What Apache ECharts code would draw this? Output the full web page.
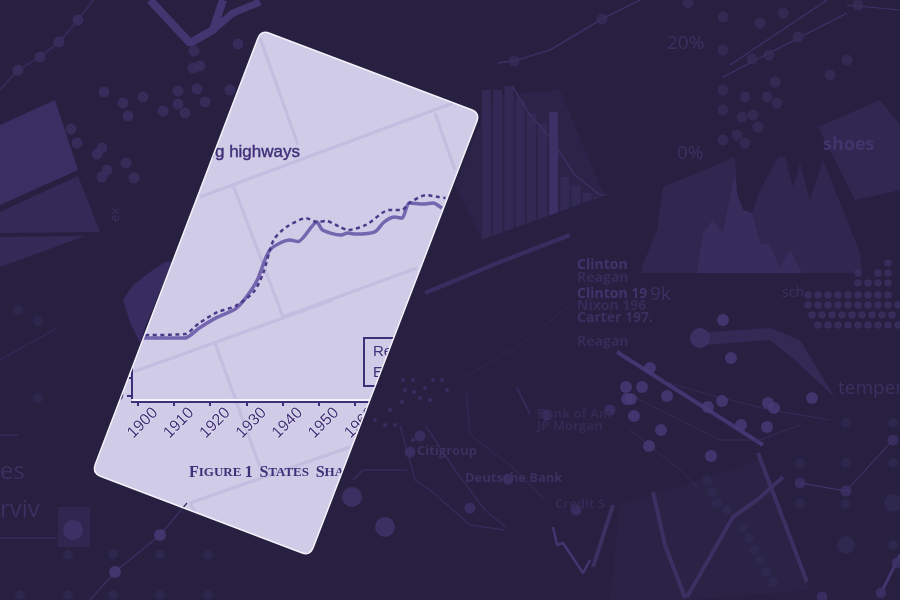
<!DOCTYPE html>
<html>
<head>
<meta charset="utf-8">
<style>html,body{margin:0;padding:0;background:#272041}#c{width:900px;height:600px}</style>
<script src="https://cdn.jsdelivr.net/npm/echarts@6/dist/echarts.min.js"></script>
</head>
<body>
<div id="c"></div>
<script>
// ---- main chart data ----
var revenueYears = [1900,1902.5,1913,1917,1922,1927,1930,1933,1936.5,1942,1944.3,1949.5,1951,1956,1958,1960,1965.5,1968,1971,1973,1975,1979,1981.5,1984];
var revenueShare = [16.1,16.1,16.1,18.9,21.9,24.2,27.5,32.2,40.6,43.3,42.9,48.3,46.1,44.7,45.3,45,45.6,48.3,49.7,49.4,53.6,53.3,53.6,52.2];
var expendYears = [1900,1913,1917,1922,1927,1932,1934.6,1937.5,1941,1946.5,1949.5,1952,1956,1958,1963,1969.5,1973,1975,1979.5,1983,1985];
var expendShare = [16.9,17.2,20.3,23.3,25,28.9,34,43.3,46.9,49.4,48.3,48.6,46.9,46.1,47.5,51.7,51.7,53.6,55.8,55.3,55];
var xTicks = [1900,1910,1920,1930,1940,1950,1960,1970,1980];
var yTicks = [0,5,10,15,20,25,30,35,40,45,50,55,60];

// ---- faded background fragments ----
var barHeights = [150,150,154,140,127,117,128,63,55,47,43];
var areaOuter = [[642,267],[657,230],[663,187],[735,157],[737,193],[743,210],[752,213],[760,190],[778,157],[785,157],[793,187],[800,163],[810,200],[823,160],[860,253],[862,273]];
var areaInner = [[697,273],[703,233],[713,220],[723,233],[730,197],[735,172],[737,193],[743,210],[752,213],[760,243],[770,245],[780,267],[790,250],[802,273]];
var dotsBright = [[723,320],[731,358],[650,368],[626,387],[642,387],[627,399],[631,399],[667,396],[634,416],[661,430],[649,446],[708,407],[722,401],[768,403],[774,408],[812,398],[741,425],[767,427],[711,456],[160,535],[115,572]];
var dotsLarge = [[700,338],[73,530],[352,497],[385,527]];
var dotsLeft = [[104,92],[123,103],[128,116],[143,97],[163,111],[178,91],[197,89],[178,104],[185,113],[205,102],[193,68],[200,66],[194,51],[238,44],[230,90],[102,148],[97,154],[107,170],[102,177],[126,163],[134,178],[71,129],[77,143],[78,20],[59,42],[40,57],[18,70]];
var dotsTopRight = [[752,59],[769,55],[847,60],[775,82],[745,97],[767,97],[777,103],[753,115],[742,117],[758,127],[737,135],[745,143],[798,37],[688,3],[602,19],[514,61],[858,5],[760,23],[830,75],[783,13],[723,17],[723,50],[723,90],[723,110],[723,140]];
var dotsField = [[808,305],[818,305],[828,305],[838,305],[848,305],[858,305],[868,305],[878,305],[888,305],[898,305],[812,315],[822,315],[832,315],[842,315],[852,315],[862,315],[872,315],[882,315],[892,315],[818,325],[828,325],[838,325],[848,325],[858,325],[868,325],[878,325],[888,325],[898,325],[808,295],[818,295],[828,295],[838,295],[848,295],[858,295],[868,295],[878,295],[888,295],[858,283],[868,283],[878,283],[888,283],[858,273],[888,273],[878,273],[888,263]];
var dotsFaint = [[113,554],[160,554],[208,555],[68,555],[113,595],[160,595],[68,595],[208,595],[20,595],[38,398],[18,310],[38,321],[846,423],[846,504],[893,423],[893,463],[846,545],[893,545],[846,463],[800,463],[800,503],[707,480],[712,492],[717,503],[727,510],[743,528],[749,538],[754,550],[760,560],[766,572],[773,582]];
var dotsFaintBig = [[893,503],[846,545]];
var dotsGroup = [[800,483],[846,491],[893,440],[897,563],[881,593],[822,597],[610,410],[576,510],[508,479],[410,452],[420,436],[547,415],[470,508]];
var dotsSpeck = [[403,380],[413,380],[433,380],[442,380],[405,390],[414,392],[425,388],[447,390],[420,398],[430,400],[402,402],[390,410],[375,420],[385,425],[395,425],[413,440]];
var lineTop = [[497,63],[514,61],[550,50],[602,19],[640,0]];
var lineCross1 = [[723,77],[847,13]];
var lineCross2 = [[730,65],[827,0]];
var lineCross3 = [[847,5],[900,10]];
var lineBarCurve = [[512,86],[530,115],[548,135],[575,175],[600,195],[612,195],[618,194]];
var lineDiagLong = [[425,293],[500,262],[570,235]];
var lineThin1 = [[460,380],[520,345],[570,305]];
var lineThick1 = [[617,352],[680,392],[763,445]];
var lineThick2 = [[758,453],[807,582]];
var lineThick3 = [[653,492],[665,545],[685,598]];
var lineCurveUp = [[687,597],[733,517],[757,500],[783,477]];
var lineJag = [[553,527],[557,545],[563,543],[583,573],[590,560]];
var lineJag2 = [[613,505],[593,567]];
var lineRight = [[800,483],[846,491],[893,440]];
var lineRight2 = [[880,595],[900,555]];
var lineBL = [[90,600],[115,572],[160,535],[187,503]];
var lineBL2 = [[353,480],[363,470],[407,470]];
var lineL1 = [[0,360],[57,328]];
var lineL2 = [[0,435],[18,435]];
var lineL3 = [[0,538],[57,538]];
var lineChevA = [[150,0],[190,43],[213,30],[223,0]];
var lineChevB = [[213,30],[233,13],[260,2]];
var lineDots = [[0,90],[18,70],[40,57],[59,42],[78,20],[93,0]];
var lineBank1 = [[400,425],[415,480],[430,490],[470,525],[505,530]];
var lineBank2 = [[425,425],[455,470],[485,510],[507,528]];
var lineBank3 = [[466,390],[470,435],[510,465],[545,500]];
var lineBank4 = [[517,388],[530,414]];
var lineWeb = [[620,390],[670,415],[720,440],[760,440],[800,425]];
var lineWeb2 = [[630,430],[680,470],[700,490]];
var lineWeb3 = [[660,380],[710,395],[770,410],[830,420]];

var INK = '#3f2f78', BASE = '#272041', CARD = '#d0cbe6';
var cardHole = 'M257.8 38.4 L95.2 464.6 Q92 473 100.4 476.2 L301.6 552.8 Q310 556 313.2 547.6 L476.8 121.4 Q480 113 471.6 109.8 L269.4 33.2 Q261 30 257.8 38.4 Z';

function dots(arr, size, color) {
  return {type:'scatter', xAxisIndex:1, yAxisIndex:1, data:arr, symbolSize:size, z:20, silent:true,
    itemStyle:{color:color}, animation:false, legendHoverLink:false};
}
function stroke(arr, width, color, z) {
  return {type:'line', xAxisIndex:1, yAxisIndex:1, data:arr, showSymbol:false, z:z||20, silent:true, animation:false,
    lineStyle:{color:color, width:width}, itemStyle:{color:color}};
}
function area(arr, color) {
  return {type:'line', xAxisIndex:1, yAxisIndex:1, data:arr, showSymbol:false, z:20, silent:true, animation:false,
    lineStyle:{width:0}, areaStyle:{color:color, opacity:1, origin:273}, itemStyle:{color:color}};
}
function poly(points, fill, z) {
  return {type:'polygon', silent:true, z:z||15, shape:{points:points}, style:{fill:fill}};
}
function cardLine(a, b, c, d) {
  return {type:'line', silent:true, z:-1, shape:{x1:a,y1:b,x2:c,y2:d}, style:{stroke:'#c3bde0', lineWidth:3}};
}
function ghost(t, x, y, size, color, weight, rot) {
  return {type:'text', silent:true, z:21, x:x, y:y, rotation:rot||0, style:{text:t, fill:color, font:(weight||'normal')+' '+size+'px "Open Sans"', textVerticalAlign:'middle'}};
}
function pathSeries(d, style, z) {
  return {type:'custom', coordinateSystem:'none', data:[0], z:z, silent:true, clip:false, animation:false,
    renderItem:function(){ return {type:'path', shape:{pathData:d}, style:style}; }};
}

var graphics = [
  cardLine(260,38,298,145), cardLine(200,197,453,103), cardLine(233,185,283,317),
  cardLine(283,317,417,268), cardLine(435,113,455,170), cardLine(133,372,333,300),
  cardLine(215,343,260,467), cardLine(190,503,350,447), cardLine(190,503,198,518),
  {type:'text', silent:true, z:3, x:300, y:152, style:{text:'Building highways', fill:INK, stroke:INK, lineWidth:0.4, font:'17px "Liberation Sans"', textAlign:'right', textVerticalAlign:'middle'}},
  {type:'text', silent:true, z:3, x:189, y:473, style:{
    text:'{b|F}{s|IGURE} {b|1}  {b|S}{s|TATES}  {b|S}{s|HARE}',
    textVerticalAlign:'middle',
    rich:{b:{font:'bold 16px "Liberation Serif"', fill:INK, color:INK}, s:{font:'bold 13px "Liberation Serif"', fill:INK, color:INK}}
  }},
  // legend box
  {type:'rect', silent:true, z:3, shape:{x:364,y:338,width:120,height:48}, style:{fill:CARD, stroke:INK, lineWidth:2}},
  {type:'text', silent:true, z:4, x:373, y:352, style:{text:'Revenue', fill:INK, font:'15px "Liberation Sans"', textVerticalAlign:'middle'}},
  {type:'text', silent:true, z:4, x:373, y:373, style:{text:'Expenditures', fill:INK, font:'15px "Liberation Sans"', textVerticalAlign:'middle'}},
  // faded panels
  poly([[0,125],[55,100],[78,170],[0,205]],'#3a2f63'),
  poly([[0,212],[78,176],[100,232],[0,233]],'#332a57'),
  poly([[0,237],[85,236],[0,267]],'#332a57'),
  poly([[482,118],[500,95],[560,90],[600,185],[607,197],[483,242],[455,185]],'#2b2448'),
  poly([[818,127],[880,100],[900,125],[900,190],[855,200]],'#302851'),
  poly([[705,345],[708,332],[770,328],[800,340],[835,398],[795,360],[770,340]],'#322a55'),
  poly([[150,272],[165,262],[172,262],[146,325],[140,343],[130,322],[123,300],[133,285]],'#372d61'),
  poly([[58,507],[90,507],[90,547],[58,547]],'#2f2750'),
  poly([[620,505],[760,460],[810,590],[690,600],[610,600]],'#2a2346'),
  poly([[481,240],[620,190],[620,252],[481,252]],BASE,21),
  ghost('20%',667,44,19,'#3a3160'), ghost('0%',677,154,19,'#3a3160'),
  ghost('shoes',823,145,18,'#40356b','bold'),
  ghost('Clinton',577,265,14,'#40356b','bold'), ghost('Reagan',577,278,14,'#352c58','bold'),
  ghost('Clinton 19',577,294,14,'#40356b','bold'), ghost('Nixon 196',577,306,14,'#352c58','bold'),
  ghost('Carter 197.',577,318,14,'#3a3160','bold'), ghost('Reagan',577,342,14,'#352c58','bold'),
  ghost('9k',650,295,19,'#3a3160'), ghost('sch',782,293,14,'#3a3160'),
  ghost('temper',838,389,19,'#3a3160'),
  ghost('Citigroup',417,451,13,'#3a3160','bold'), ghost('Deutsche Bank',465,478,13,'#3a3160','bold'),
  ghost('Bank of Am',537,414,13,'#322a52','bold'), ghost('JP Morgan',537,426,13,'#322a52','bold'),
  ghost('Credit S',555,504,13,'#322a52','bold'),
  ghost('es',0,472,24,'#3a3160'), ghost('rviv',0,510,24,'#3a3160'),
  ghost('ex',115,222,13,'#3a3160','normal',Math.PI/2)
];

var option = {
  animation:false,
  backgroundColor:CARD,
  textStyle:{fontFamily:'Liberation Sans'},
  grid:[
    {left:132, top:144, width:331.6, height:258},
    {left:0, top:0, right:0, bottom:0, show:false},
    {left:481, top:0, width:123, height:240, show:false}
  ],
  xAxis:[
    {type:'value', gridIndex:0, min:1898.4, max:1990, splitLine:{show:false}, z:1,
     axisLine:{onZero:false, lineStyle:{color:INK, width:2, shadowColor:'#f5f3fc', shadowOffsetY:-2, shadowBlur:0}},
     axisTick:{length:4, inside:false, lineStyle:{color:INK, width:2}, customValues:xTicks},
     axisLabel:{rotate:45, color:INK, fontSize:16, align:'center', verticalAlign:'middle', margin:26, padding:[0,0,0,14],
       textBorderColor:'#eeecf8', textBorderWidth:1, customValues:xTicks, formatter:function(v){return String(v);}}},
    {type:'value', gridIndex:1, min:0, max:900, show:false},
    {type:'category', gridIndex:2, show:false, data:barHeights.map(function(_,i){return 'b'+i;})}
  ],
  yAxis:[
    {type:'value', gridIndex:0, min:-1.667, max:70, splitLine:{show:false}, z:1,
     axisLine:{show:true, onZero:false, lineStyle:{color:INK, width:2}},
     axisTick:{show:true, length:5, lineStyle:{color:INK, width:2}, customValues:yTicks},
     axisLabel:{color:INK, fontSize:16, margin:8, customValues:yTicks, fontWeight:'bold'}},
    {type:'value', gridIndex:1, min:0, max:600, inverse:true, show:false},
    {type:'value', gridIndex:2, min:0, max:240, show:false}
  ],
  series:[
    {name:'Revenue', type:'line', xAxisIndex:0, yAxisIndex:0, showSymbol:false, z:3, silent:true, smooth:0.25,
     data:revenueYears.map(function(y,i){return [y,revenueShare[i]];}),
     lineStyle:{color:'#7465af', width:3.5}, itemStyle:{color:'#7465af'}},
    {name:'Expenditures', type:'line', xAxisIndex:0, yAxisIndex:0, showSymbol:false, z:4, silent:true, smooth:0.25,
     data:expendYears.map(function(y,i){return [y,expendShare[i]];}),
     lineStyle:{color:'#4a3a8a', width:2.5, type:[4,3.5]}, itemStyle:{color:'#4a3a8a'}},
    pathSeries('M0 0 H900 V600 H0 Z '+cardHole, {fill:BASE}, 10),
    {type:'bar', xAxisIndex:2, yAxisIndex:2, data:barHeights, barWidth:9, z:20, silent:true,
     itemStyle:{color:function(p){return p.dataIndex===6?'#3c3166':'#322a55';}}},
    area(areaOuter,'#2f2750'), area(areaInner,'#372d5c'),
    stroke(lineTop,1.5,'#3a3062'), stroke(lineCross1,1.2,'#3e3369'), stroke(lineCross2,1.2,'#3e3369'), stroke(lineCross3,1.2,'#3e3369'),
    stroke(lineBarCurve,1.5,'#3a3062'), stroke(lineDiagLong,4.5,'#372d5e',25), stroke(lineThin1,1,'#2f2750'),
    stroke(lineThick1,4,'#41366f'), stroke(lineThick2,4,'#3a3062'), stroke(lineThick3,4,'#3a3062'),
    stroke(lineCurveUp,4,'#3a3062'), stroke(lineJag,2.5,'#41366f'), stroke(lineJag2,4,'#3a3062'),
    stroke(lineRight,1,'#453a74'), stroke(lineRight2,3,'#41366f'),
    stroke(lineBL,1.2,'#3a3062'), stroke(lineBL2,1.2,'#3a3062'), stroke(lineL1,1.2,'#332a57'), stroke(lineL2,1.2,'#3a3062'), stroke(lineL3,1.2,'#3a3062'),
    stroke(lineChevA,8,'#41366f'), stroke(lineChevB,7,'#41366f'), stroke(lineDots,2,'#332a57'),
    stroke(lineBank1,1.5,'#342b58'), stroke(lineBank2,1.5,'#342b58'), stroke(lineBank3,1.5,'#2f2750'), stroke(lineBank4,2,'#342b58'),
    stroke(lineWeb,0.7,'#3a3062'), stroke(lineWeb2,0.7,'#3a3062'), stroke(lineWeb3,0.7,'#3a3062'),
    dots(dotsFaint,10,'#2f2850'), dots(dotsFaintBig,18,'#312951'),
    dots(dotsLeft,11,'#3a2f60'), dots(dotsTopRight,11,'#362d58'), dots(dotsField,7.5,'#3b3162'),
    dots(dotsGroup,11,'#3c3266'), dots(dotsSpeck,4,'#3c3266'), dots(dotsBright,12,'#473b78'), dots(dotsLarge,20,'#403569'),
    pathSeries(cardHole, {fill:'none', stroke:'#f4f2fb', lineWidth:1.5}, 30)
  ],
  graphic:{elements:graphics}
};
var chart = echarts.init(document.getElementById('c'), null, {renderer:'canvas'});
chart.setOption(option);
</script>
</body>
</html>
